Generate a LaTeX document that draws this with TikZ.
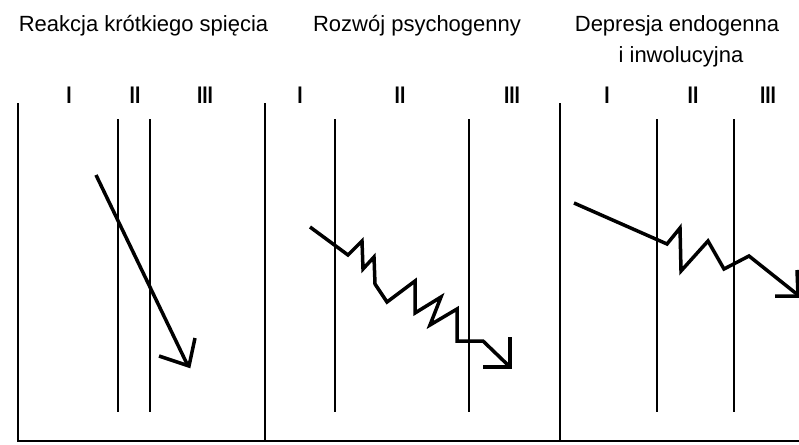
\documentclass[tikz,border=0pt]{standalone}
\usepackage{fontspec}
\setmainfont{Liberation Sans}
\begin{document}
\begin{tikzpicture}[x=1pt,y=-1pt,
  frame/.style={line width=2pt},
  phase/.style={line width=1.3pt},
  course/.style={line width=3.5pt,line join=miter,line cap=butt},
  title/.style={anchor=base,inner sep=0pt,font=\fontsize{22}{26}\selectfont},
  numeral/.style={anchor=base,inner sep=0pt,xscale=0.8,font=\fontsize{24}{28}\selectfont\bfseries}]
\useasboundingbox (0,0) rectangle (799,444);
% titles
\node[title] (t1) at (143.5,31) {Reakcja krótkiego spięcia};
\node[title] (t2) at (417,32) {Rozwój psychogenny};
\node[title] (t3a) at (677,32) {Depresja endogenna};
\node[title] (t3b) at (681,62) {i inwolucyjna};
% numerals
\node[numeral] (p1a) at (69,103) {I};
\node[numeral] (p1b) at (135,103) {II};
\node[numeral] (p1c) at (205,103) {III};
\node[numeral] (p2a) at (300,103) {I};
\node[numeral] (p2b) at (400,103) {II};
\node[numeral] (p2c) at (512,103) {III};
\node[numeral] (p3a) at (607,103) {I};
\node[numeral] (p3b) at (693,103) {II};
\node[numeral] (p3c) at (768,103) {III};
% frames
\draw[frame] (18,103) -- (18,441) -- (799,441);
\draw[frame] (265,103) -- (265,441);
\draw[frame] (560,103) -- (560,441);
% phase lines
\foreach \x in {118,150,335,469,657,734}
  \draw[phase] (\x,119) -- (\x,412);
% panel 1
\draw[course] (96,175) -- (188,366);
\draw[course] (159,356) -- (189,366) -- (195,338);
% panel 2
\draw[course] (310,227) -- (348,255) -- (362,241) -- (363,269) -- (374,257) -- (375,284) -- (387,302) -- (415,281) -- (415,313) -- (441,297) -- (430,325) -- (457,309) -- (457,341) -- (483,341) -- (510,367);
\draw[course] (483,367) -- (510,367) -- (510,337);
% panel 3
\draw[course] (574,203) -- (667,244) -- (680,228) -- (681,271) -- (708,241) -- (724,269) -- (749,256) -- (798,295);
\draw[course] (775,296) -- (798,296) -- (797,270);
\end{tikzpicture}
\end{document}
